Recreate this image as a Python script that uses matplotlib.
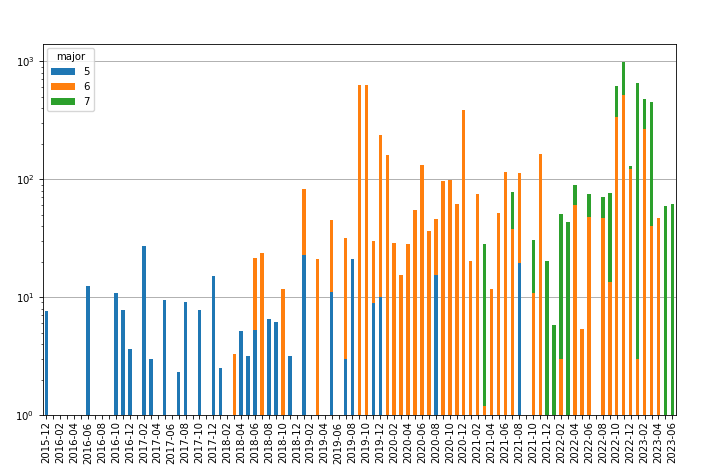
import numpy as np
import pandas as pd
import matplotlib
matplotlib.use("Agg")
import matplotlib.pyplot as plt

# the reference was drawn bigger and scaled down, so shrink text and lines
plt.rcParams.update({
    "font.size": 7.3,
    "axes.linewidth": 0.6,
    "xtick.major.size": 2.6,
    "ytick.major.size": 2.6,
    "ytick.minor.size": 1.5,
    "xtick.major.width": 0.6,
    "ytick.major.width": 0.6,
    "ytick.minor.width": 0.45,
    "grid.linewidth": 0.7,
    "legend.fontsize": 7.3,
    "legend.title_fontsize": 7.3,
})

# monthly buckets, 2015-12 .. 2023-06
months = [str(p) for p in pd.period_range("2015-12", "2023-06", freq="M")]

# counts per major version (segment heights, 0 = no bar)
v5 = [0] * len(months)
v6 = [0] * len(months)
v7 = [0] * len(months)

major5 = {0: 7.6, 6: 12.4, 10: 10.9, 11: 7.7, 12: 3.6, 14: 26.9, 15: 3.0,
          17: 9.4, 19: 2.3, 20: 9.1, 22: 7.7, 24: 15.1, 25: 2.5, 28: 5.2,
          29: 3.15, 30: 5.3, 32: 6.5, 33: 6.2, 35: 3.15, 37: 22.7, 41: 11.0,
          43: 3.0, 44: 20.9, 47: 8.9, 48: 10.1, 56: 15.4, 68: 19.3}
major6 = {27: 3.3, 30: 16.1, 31: 23.7, 34: 11.8, 37: 59.6, 39: 21.1, 41: 33.7,
          43: 28.6, 45: 626, 46: 626, 47: 20.9, 48: 227, 49: 159, 50: 28.7,
          51: 15.3, 52: 28.0, 53: 54.3, 54: 131, 55: 36.3, 56: 30.7, 57: 95.6,
          58: 98.6, 59: 61.0, 60: 384, 61: 20.3, 62: 74.6, 63: 1.2, 64: 11.8,
          65: 51.2, 66: 116, 67: 37.7, 68: 93.1, 70: 10.8, 71: 163, 74: 3.0,
          76: 60.6, 77: 5.4, 78: 47.9, 80: 46.7, 81: 13.3, 82: 335, 83: 515,
          84: 123, 85: 3.0, 86: 267, 87: 40, 88: 46.4}
major7 = {63: 26.8, 67: 39.4, 70: 19.4, 72: 20.2, 73: 5.8, 74: 47.5, 75: 43.0,
          76: 27.8, 78: 27.1, 80: 23.7, 81: 63.2, 82: 283, 83: 466, 84: 6.5,
          85: 652, 86: 213, 87: 415, 89: 58.7, 90: 61.1}

for k, v in major5.items():
    v5[k] = v
for k, v in major6.items():
    v6[k] = v
for k, v in major7.items():
    v7[k] = v

fig = plt.figure(figsize=(7.2, 4.68), dpi=100)
ax = fig.add_axes([0.0597, 0.1132, 0.879, 0.7928])

x = np.arange(len(months))
a5 = np.array(v5, dtype=float)
a6 = np.array(v6, dtype=float)
a7 = np.array(v7, dtype=float)

ax.bar(x, a5, width=0.5, color="C0", label="5")
ax.bar(x, a6, width=0.5, bottom=a5, color="C1", label="6")
ax.bar(x, a7, width=0.5, bottom=a5 + a6, color="C2", label="7")

ax.set_yscale("log")
ax.set_ylim(1, 1400)
ax.set_xlim(-0.5, len(months) - 0.5)
ax.grid(axis="y", which="major")
ax.set_axisbelow(True)

ax.set_xticks(x)
ax.set_xticklabels([m if i % 2 == 0 else "" for i, m in enumerate(months)], rotation=90)
ax.tick_params(axis="x", pad=2)

ax.legend(title="major", loc="upper left", handlelength=2.4, borderaxespad=0.4)

fig.savefig("out.png", dpi=100)
